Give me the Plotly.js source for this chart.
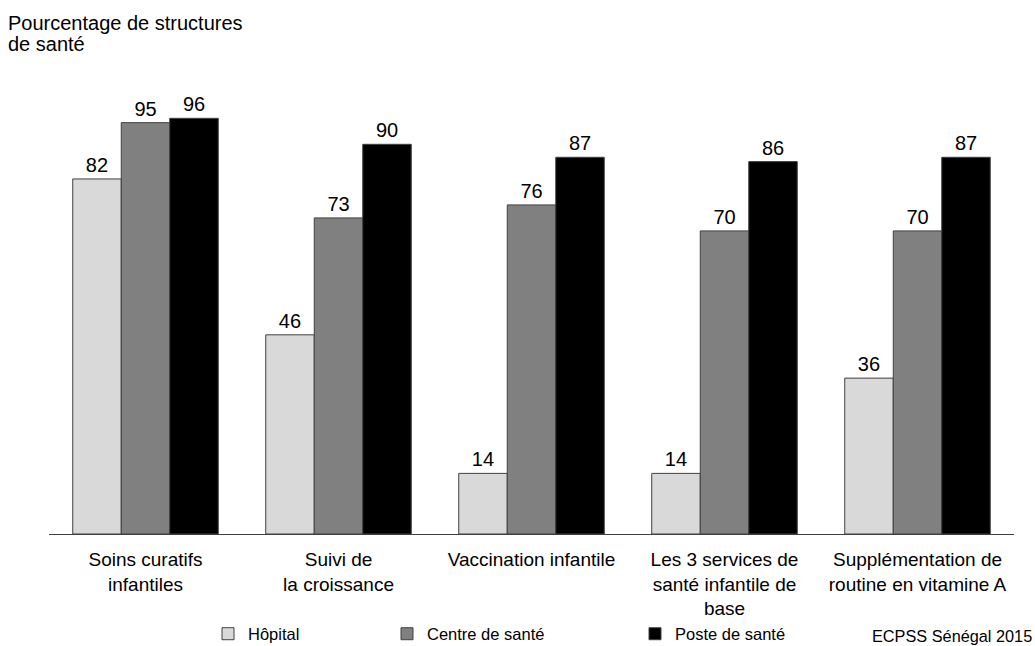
<!DOCTYPE html>
<html>
<head>
<meta charset="utf-8">
<script src="https://cdn.plot.ly/plotly-3.0.1.min.js"></script>
<style>html,body{margin:0;padding:0;background:#fff;}#chart{width:1035px;height:646px;}</style>
</head>
<body>
<div id="chart"></div>
<script>
const categories = ["Soins curatifs<br>infantiles", "Suivi de<br>la croissance", "Vaccination infantile", "Les 3 services de<br>santé infantile de<br>base", "Supplémentation de<br>routine en vitamine A"];
const seriesNames = ["Hôpital", "Centre de santé", "Poste de santé"];
const hopital = [82, 46, 14, 14, 36];
const centre = [95, 73, 76, 70, 70];
const poste = [96, 90, 87, 86, 87];
const titleLines = ["Pourcentage de structures", "de santé"];
const sourceText = "ECPSS Sénégal 2015";

const colors = ["#d9d9d9", "#808080", "#000000"];
const values = [hopital, centre, poste];
const legendNames = ["legend", "legend2", "legend3"];
const legendX = [208, 387, 635];

const font = "Liberation Sans, Arial, sans-serif";
const traces = values.map((v, i) => ({
  type: "bar",
  name: seriesNames[i],
  x: categories,
  y: v,
  text: v.map(String),
  textposition: "outside",
  textfont: {family: font, size: 20, color: "#000"},
  cliponaxis: false,
  marker: {color: colors[i], line: {color: "#404040", width: 1}},
  legend: legendNames[i],
  hoverinfo: "x+y+name"
}));

const legendBase = {
  orientation: "h", xref: "container", yref: "container", yanchor: "middle",
  y: 1 - 634/646, font: {family: font, size: 16.5, color: "#000"},
  itemwidth: 30, bgcolor: "rgba(0,0,0,0)", borderwidth: 0, tracegroupgap: 0
};

const layout = {
  width: 1035, height: 646,
  margin: {l: 49, r: 21, t: 101, b: 112},
  paper_bgcolor: "#fff", plot_bgcolor: "#fff",
  font: {family: font, color: "#000"},
  barmode: "group", bargap: 0.246, bargroupgap: 0,
  showlegend: true,
  legend: Object.assign({}, legendBase, {x: legendX[0]/1035}),
  legend2: Object.assign({}, legendBase, {x: legendX[1]/1035}),
  legend3: Object.assign({}, legendBase, {x: legendX[2]/1035}),
  xaxis: {
    showline: true, linecolor: "#404040", linewidth: 1, ticks: "",
    ticklabelstandoff: 8,
    tickfont: {family: font, size: 19, color: "#000"}, showgrid: false, zeroline: false
  },
  yaxis: {range: [0, 100], visible: false, showgrid: false, zeroline: false},
  annotations: [
    {text: titleLines[0], xref: "paper", yref: "paper", x: -0.0445, y: 1.1801,
     xanchor: "left", yanchor: "middle", align: "left", showarrow: false,
     font: {family: font, size: 20, color: "#000"}},
    {text: titleLines[1], xref: "paper", yref: "paper", x: -0.0445, y: 1.1316,
     xanchor: "left", yanchor: "middle", align: "left", showarrow: false,
     font: {family: font, size: 20, color: "#000"}},
    {text: sourceText, xref: "paper", yref: "paper", x: 1.0207, y: -0.2355,
     xanchor: "right", yanchor: "middle", showarrow: false,
     font: {family: font, size: 16.3, color: "#000"}}
  ]
};

Plotly.newPlot("chart", traces, layout, {displayModeBar: false, responsive: false});
</script>
</body>
</html>
